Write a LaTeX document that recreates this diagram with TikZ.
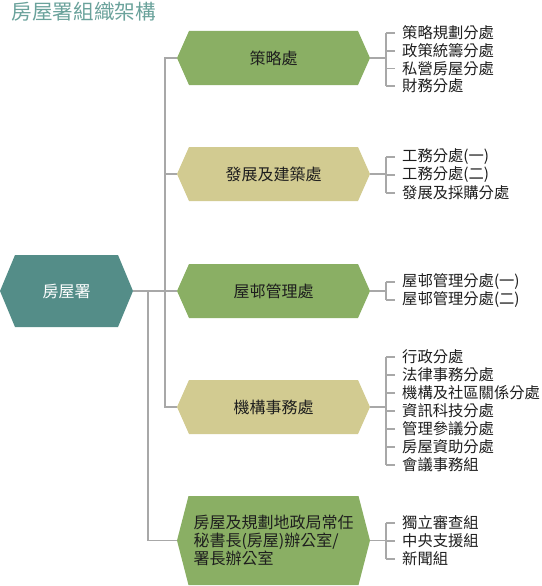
\documentclass[tikz,border=0pt]{standalone}
\usepackage{fontspec}
\setmainfont{Noto Sans CJK TC}
\definecolor{gr}{HTML}{8AAF64}
\definecolor{kh}{HTML}{D2CB91}
\definecolor{tl}{HTML}{548D88}
\definecolor{ttl}{HTML}{6AA29B}
\definecolor{lnc}{HTML}{A8A8A8}
\definecolor{txt}{HTML}{1E1E1E}
\tikzset{
  hexa/.style 2 args={inner sep=0pt, text=txt, font=\fontsize{16}{18}\selectfont,
    path picture={\fill[#1] (path picture bounding box.west)
      -- ([xshift=#2]path picture bounding box.north west)
      -- ([xshift=-#2]path picture bounding box.north east)
      -- (path picture bounding box.east)
      -- ([xshift=-#2]path picture bounding box.south east)
      -- ([xshift=#2]path picture bounding box.south west) -- cycle;}},
  mainbox/.style={minimum width=193pt, minimum height=54pt},
  item/.style={anchor=west, inner sep=0pt, text=txt, font=\fontsize{15.3}{17}\selectfont},
  ln/.style={draw=lnc, line width=1.4pt},
}
\begin{document}
\begin{tikzpicture}[x=1pt,y=-1pt]
\useasboundingbox (0,0) rectangle (541,586);
\node[anchor=west, inner sep=0pt, text=ttl, font=\fontsize{20.6}{24}\selectfont] (title) at (11.5,12) {房屋署組織架構};

\node[hexa={tl}{15pt}, minimum width=133pt, minimum height=72pt, text=white] (root) at (66.5,291) {房屋署};

\node[hexa={gr}{12pt}, mainbox] (s1) at (273.5,58) {策略處};
\node[hexa={kh}{12pt}, mainbox] (s2) at (273.5,174) {發展及建築處};
\node[hexa={gr}{12pt}, mainbox] (s3) at (273.5,291) {屋邨管理處};
\node[hexa={kh}{12pt}, mainbox] (s4) at (273.5,407) {機構事務處};
\node[hexa={gr}{11.5pt}, minimum width=193pt, minimum height=89pt, align=left] (s5) at (273.5,540.5) {房屋及規劃地政局常任\\秘書長(房屋)辦公室/\\署長辦公室};

% trunk
\coordinate (j1) at (165,291);
\coordinate (j2) at (148,291);
\draw[ln] (root.east) -- (s3.west);
\draw[ln] (s1.west) -- (s1.west -| j1) -- (s4.west -| j1) -- (s4.west);
\draw[ln] (s2.west) -- (s2.west -| j1);
\draw[ln] (j2) -- (s5.west -| j2) -- (s5.west);

% items
\node[item] (a11) at (402,33) {策略規劃分處};
\node[item] (a12) at (402,51) {政策統籌分處};
\node[item] (a13) at (402,68.5) {私營房屋分處};
\node[item] (a14) at (402,86) {財務分處};

\node[item] (a21) at (402,157) {工務分處(一)};
\node[item] (a22) at (402,175) {工務分處(二)};
\node[item] (a23) at (402,193) {發展及採購分處};

\node[item] (a31) at (402,282) {屋邨管理分處(一)};
\node[item] (a32) at (402,300) {屋邨管理分處(二)};

\node[item] (a41) at (402,357) {行政分處};
\node[item] (a42) at (402,375) {法律事務分處};
\node[item] (a43) at (402,393) {機構及社區關係分處};
\node[item] (a44) at (402,411) {資訊科技分處};
\node[item] (a45) at (402,429) {管理參議分處};
\node[item] (a46) at (402,447) {房屋資助分處};
\node[item] (a47) at (402,465) {會議事務組};

\node[item] (a51) at (402,523) {獨立審查組};
\node[item] (a52) at (402,541) {中央支援組};
\node[item] (a53) at (402,559) {新聞組};

% brackets
\foreach \s/\first/\last in {s1/a11/a14, s2/a21/a23, s3/a31/a32, s4/a41/a47, s5/a51/a53}{
  \draw[ln] (\s.east) -- ++(16,0);
  \draw[ln] ([xshift=-16pt]\first.west) -- ([xshift=-16pt]\last.west);
}
\foreach \a in {a11,a12,a13,a14,a21,a22,a23,a31,a32,a41,a42,a43,a44,a45,a46,a47,a51,a52,a53}{
  \draw[ln] ([xshift=-16pt]\a.west) -- ([xshift=-7pt]\a.west);
}
\end{tikzpicture}
\end{document}
